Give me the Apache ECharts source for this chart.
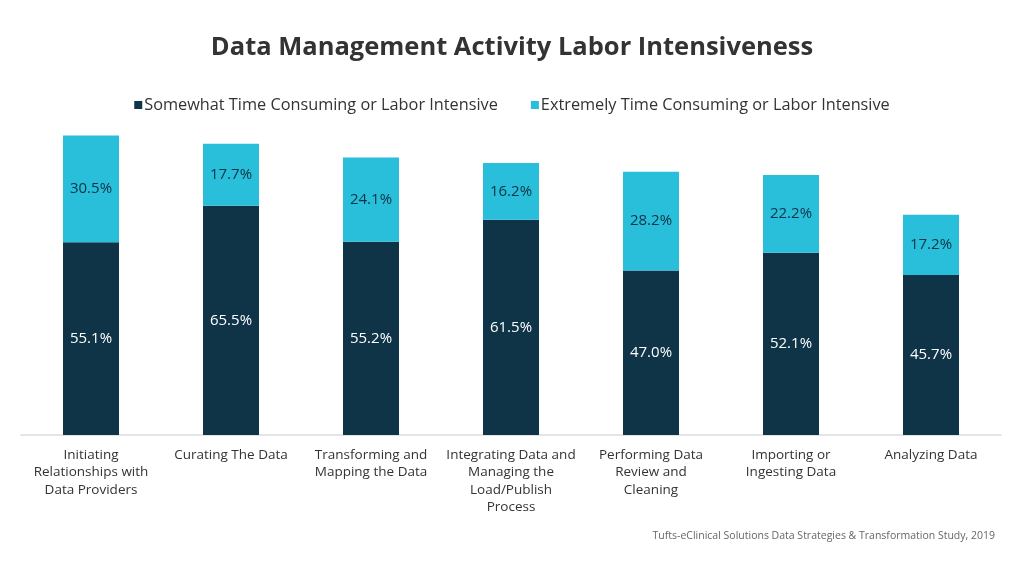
<!DOCTYPE html>
<html><head><meta charset="utf-8">
<script src="https://cdn.jsdelivr.net/npm/echarts@6/dist/echarts.min.js"></script>
<style>html,body{margin:0;padding:0;background:#fff}#c{width:1024px;height:563px}</style>
</head><body><div id="c"></div>
<script>
const categories = ["Initiating\nRelationships with\nData Providers","Curating The Data","Transforming and\nMapping the Data","Integrating Data and\nManaging the\nLoad/Publish\nProcess","Performing Data\nReview and\nCleaning","Importing or\nIngesting Data","Analyzing Data"];
const somewhat = [55.1, 65.5, 55.2, 61.5, 47.0, 52.1, 45.7];
const extremely = [30.5, 17.7, 24.1, 16.2, 28.2, 22.2, 17.2];
const FONT = "Open Sans";
const chart = echarts.init(document.getElementById('c'));
chart.setOption({
  backgroundColor:'#fff',
  title:[{text:'Data Management Activity Labor Intensiveness',left:'center',top:30,
    textStyle:{fontFamily:FONT,fontSize:25.5,fontWeight:'bold',color:'#333'}},
    {text:'Tufts-eClinical Solutions Data Strategies & Transformation Study, 2019',right:24,top:526,
    textStyle:{fontFamily:FONT,fontSize:10.5,fontWeight:'normal',color:'#666'}}],
  legend:{top:92,left:'center',itemWidth:8,itemHeight:8,itemGap:33,icon:'rect',
    textStyle:{fontFamily:FONT,fontSize:16.3,color:'#333',padding:[0,0,0,-3]}},
  grid:{left:21,right:23,top:85,bottom:128},
  xAxis:{type:'category',data:categories,
    axisLine:{lineStyle:{color:'#dddddd',width:1.5}},axisTick:{show:false},
    axisLabel:{interval:0,margin:11,fontFamily:FONT,fontSize:13.5,color:'#333',lineHeight:17.5}},
  yAxis:{type:'value',min:0,max:100,show:false,splitLine:{show:false}},
  series:[
    {name:'Somewhat Time Consuming or Labor Intensive',type:'bar',stack:'a',data:somewhat,barWidth:56,
     itemStyle:{color:'#0f3347'},
     label:{show:true,position:'inside',formatter:p=>p.value.toFixed(1)+'%',color:'#fff',fontFamily:FONT,fontSize:15,fontWeight:500}},
    {name:'Extremely Time Consuming or Labor Intensive',type:'bar',stack:'a',data:extremely,barWidth:56,
     itemStyle:{color:'#29bed9'},
     label:{show:true,position:'inside',formatter:p=>p.value.toFixed(1)+'%',color:'#0f3347',fontFamily:FONT,fontSize:15,fontWeight:500}}
  ]
});
</script></body></html>
